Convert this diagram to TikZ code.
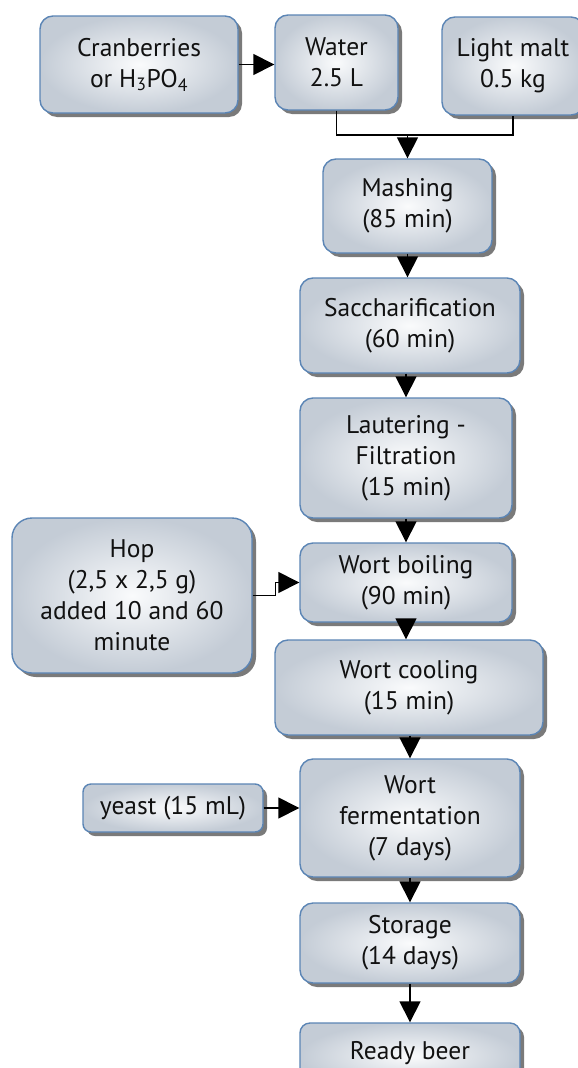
\documentclass[tikz,border=0pt]{standalone}
\usepackage{fontspec}
\setmainfont{PT Sans}
\usetikzlibrary{arrows.meta,shadows}
\definecolor{boxedge}{HTML}{5B85B5}
\definecolor{boxin}{HTML}{FAFBFC}
\definecolor{boxout}{HTML}{C4CCD6}
\definecolor{shad}{HTML}{7A7A7A}
\definecolor{txt}{HTML}{111111}
\tikzset{
  proc/.style={rectangle, rounded corners=13pt, draw=boxedge, line width=1.4pt,
    inner color=boxin, outer color=boxout,
    drop shadow={shadow xshift=4pt, shadow yshift=-4pt, fill=shad, opacity=1},
    align=center, font=\fontsize{25.5}{31}\selectfont, text=txt, inner sep=0pt},
  conn/.style={line width=1.5pt, black},
  arr/.style={conn, -{Triangle[length=21pt,width=21pt]}},
}
\begin{document}
\begin{tikzpicture}[x=1pt,y=-1pt]
\path[use as bounding box, clip] (0,0) rectangle (578,1068);
\fill[white] (0,0) rectangle (578,1068);
\node[proc, minimum width=198pt, minimum height=97pt] (cran) at (139,64.5) {Cranberries\\or H\textsubscript{3}PO\textsubscript{4}};
\node[proc, minimum width=123pt, minimum height=95pt] (water) at (336.5,62.5) {Water\\2.5 L};
\node[proc, minimum width=142pt, minimum height=98pt] (malt) at (513,66) {Light malt\\0.5 kg};
\node[proc, minimum width=169pt, minimum height=94pt] (mash) at (407.5,206) {Mashing\\(85 min)};
\node[proc, minimum width=220pt, minimum height=95pt] (sacch) at (410,325.5) {Saccharification\\(60 min)};
\node[proc, minimum width=212pt, minimum height=120pt] (laut) at (406,458) {Lautering -\\Filtration\\(15 min)};
\node[proc, minimum width=212pt, minimum height=79pt] (boil) at (406,582.5) {Wort boiling\\(90 min)};
\node[proc, rounded corners=20pt, minimum width=240pt, minimum height=155pt] (hop) at (132,595.5) {Hop\\(2,5 x 2,5 g)\\added 10 and 60\\minute};
\node[proc, minimum width=268pt, minimum height=95pt] (cool) at (409,687.5) {Wort cooling\\(15 min)};
\node[proc, minimum width=220pt, minimum height=118pt] (ferm) at (410,818) {Wort\\fermentation\\(7 days)};
\node[proc, rounded corners=8pt, minimum width=180pt, minimum height=48pt] (yeast) at (173,808) {yeast (15 mL)};
\node[proc, minimum width=220pt, minimum height=80pt] (stor) at (410,943) {Storage\\(14 days)};
\node[proc, rounded corners=10pt, minimum width=220pt, minimum height=66pt] (beer) at (410,1056) {\raisebox{12pt}{Ready beer}};
\coordinate (j) at (407.5,135);
\draw[arr] (cran.east) -- (cran.east -| water.west);
\draw[conn] (water.south) |- (j) -| (malt.south);
\draw[arr] (j) -- (mash.north);
\draw[arr] (mash.south) -- (mash.south |- sacch.north);
\draw[arr] (sacch.south -| laut.north) -- (laut.north);
\draw[arr] (laut.south) -- (boil.north);
\draw[arr] (hop.east) -- ++(23,0) |- (boil.west);
\draw[arr] (boil.south) -- (boil.south |- cool.north);
\draw[arr] (cool.south -| ferm.north) -- (ferm.north);
\draw[arr] (yeast.east) -- (yeast.east -| ferm.west);
\draw[arr] (ferm.south) -- (stor.north);
\draw[arr] (stor.south) -- (beer.north);
\end{tikzpicture}
\end{document}
